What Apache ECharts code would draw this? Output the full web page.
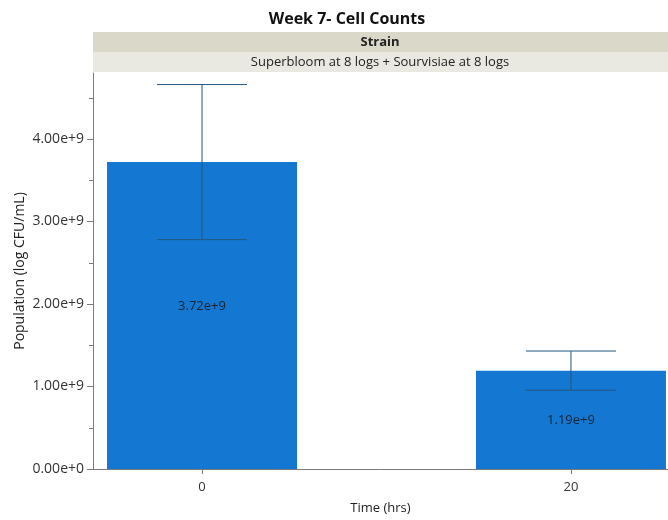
<!DOCTYPE html>
<html>
<head>
<meta charset="utf-8">
<script src="https://cdn.jsdelivr.net/npm/echarts@6/dist/echarts.min.js"></script>
<style>
  html, body { margin: 0; padding: 0; background: #fff; }
  #chart { width: 668px; height: 520px; }
</style>
</head>
<body>
<div id="chart"></div>
<script>
// data
const timeHrs = [0, 20];
const population = [3.72e9, 1.19e9];
const errLow = [2.78e9, 0.955e9];
const errHigh = [4.66e9, 1.43e9];
const yTickValues = [0, 1e9, 2e9, 3e9, 4e9];
const yMinorValues = [0.5e9, 1.5e9, 2.5e9, 3.5e9, 4.5e9];
const labelShift = [-9, 0];

const font = 'Open Sans';
const chart = echarts.init(document.getElementById('chart'), null, { renderer: 'canvas' });

const option = {
  animation: false,
  textStyle: { fontFamily: font },
  title: {
    text: 'Week 7- Cell Counts',
    left: 342, top: 6, textAlign: 'center',
    textStyle: { fontFamily: font, fontSize: 16, fontWeight: 'bold', color: '#111' }
  },
  graphic: [
    { type: 'rect', shape: { x: 93, y: 32, width: 575, height: 20 }, style: { fill: '#dad9c9' } },
    { type: 'rect', shape: { x: 93, y: 52, width: 575, height: 20 }, style: { fill: '#e9e8e1' } },
    { type: 'text', x: 380, y: 42, style: { text: 'Strain', fontFamily: font, fontSize: 13, fontWeight: 'bold', fill: '#222', align: 'center', verticalAlign: 'middle' } },
    { type: 'text', x: 380, y: 62, style: { text: 'Superbloom at 8 logs + Sourvisiae at 8 logs', fontFamily: font, fontSize: 13, fill: '#222', align: 'center', verticalAlign: 'middle' } }
  ],
  grid: { left: 93, right: 0, top: 73, bottom: 50 },
  xAxis: {
    type: 'value',
    min: -5.91, max: 25.26,
    name: 'Time (hrs)', nameLocation: 'middle', nameGap: 33,
    nameTextStyle: { fontFamily: font, fontSize: 13, color: '#222' },
    axisLine: { lineStyle: { color: '#7a7a7a' } },
    axisTick: { customValues: timeHrs, length: 5, lineStyle: { color: '#7a7a7a' } },
    axisLabel: { customValues: timeHrs, fontFamily: font, fontSize: 13, color: '#333', margin: 12 },
    splitLine: { show: false }
  },
  yAxis: [{
    type: 'value',
    min: 0, max: 4.8e9,
    name: 'Population (log CFU/mL)', nameLocation: 'middle', nameGap: 66,
    nameMoveOverlap: false,
    nameTextStyle: { fontFamily: font, fontSize: 14, color: '#222' },
    axisLine: { show: true, onZero: false, lineStyle: { color: '#7a7a7a' } },
    axisTick: { show: true, customValues: yTickValues, length: 6, lineStyle: { color: '#7a7a7a' } },
    axisLabel: {
      customValues: yTickValues, fontFamily: font, fontSize: 14, color: '#333', margin: 9,
      formatter: v => (v / 1e9).toFixed(2) + 'e+' + (v === 0 ? '0' : '9')
    },
    splitLine: { show: false }
  }, {
    type: 'value',
    position: 'left',
    min: 0, max: 4.8e9,
    axisLine: { show: false, onZero: false },
    axisTick: { show: true, customValues: yMinorValues, length: 4, lineStyle: { color: '#7a7a7a' } },
    axisLabel: { show: false },
    splitLine: { show: false }
  }],
  series: [{
    type: 'bar',
    data: timeHrs.map((t, i) => ({ value: [t, population[i]], label: { offset: [0, labelShift[i]] } })),
    barWidth: 190,
    itemStyle: { color: '#1478d2' },
    label: {
      show: true, position: 'inside',
      fontFamily: font, fontSize: 13, color: '#1a2433',
      formatter: p => (p.value[1] / 1e9).toFixed(2) + 'e+9'
    }
  }, {
    type: 'custom',
    data: timeHrs.map((t, i) => [t, errLow[i], errHigh[i]]),
    renderItem: function (params, api) {
      const lo = api.coord([api.value(0), api.value(1)]);
      const hi = api.coord([api.value(0), api.value(2)]);
      const half = 45;
      const st = { stroke: '#24557f', lineWidth: 1 };
      return {
        type: 'group',
        children: [
          { type: 'line', shape: { x1: hi[0], y1: hi[1], x2: lo[0], y2: lo[1] }, style: st },
          { type: 'line', shape: { x1: hi[0] - half, y1: hi[1], x2: hi[0] + half, y2: hi[1] }, style: st },
          { type: 'line', shape: { x1: lo[0] - half, y1: lo[1], x2: lo[0] + half, y2: lo[1] }, style: st }
        ]
      };
    },
    z: 5
  }]
};
chart.setOption(option);
</script>
</body>
</html>
